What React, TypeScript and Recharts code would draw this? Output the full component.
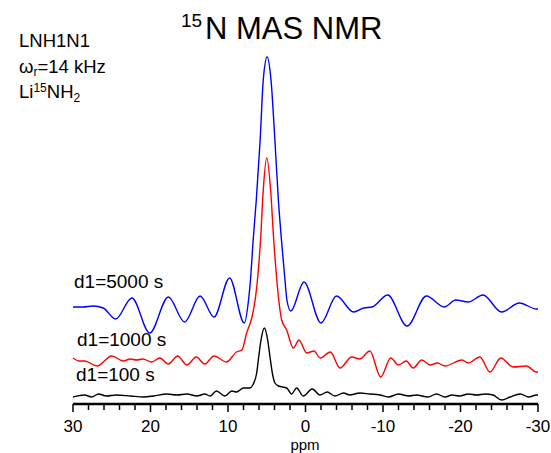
import { LineChart, Line, XAxis, YAxis } from 'recharts'

// chemical shift axis (ppm), drawn right to left
const ppmTicks = [30, 28, 26, 24, 22, 20, 18, 16, 14, 12, 10, 8, 6, 4, 2, 0, -2, -4, -6, -8, -10, -12, -14, -16, -18, -20, -22, -24, -26, -28, -30]

// [ppm, intensity] (intensity in stacked plot units)
const blueTrace = [
  [30, 97], [28.7, 97], [27.4, 98], [26.1, 96], [24.5, 85], [22.4, 106], [20.1, 71], [17.7, 107],
  [15.6, 82], [13.6, 108], [11.8, 87], [9.8, 126], [7.9, 81], [7.35, 104], [7.1, 124], [6.75, 164],
  [6.35, 204], [5.85, 264], [5.45, 324], [4.95, 347], [4.45, 324], [3.95, 264], [3.5, 204], [3.1, 164],
  [2.65, 124], [2.4, 104], [1.9, 93], [0.2, 122], [-2.0, 81], [-4.0, 108], [-6.2, 92], [-7.5, 96],
  [-8.6, 97], [-10.6, 109], [-13.1, 78], [-15.6, 108], [-17.9, 97], [-19.4, 104], [-21.0, 102],
  [-22.9, 109], [-25.3, 92], [-27.6, 101], [-29.8, 95], [-30, 95],
]

const redTrace = [
  [30, 46], [29.2, 43], [28.5, 43], [26.9, 38], [25.0, 48], [23.5, 43], [22.6, 45], [21.8, 44],
  [21.0, 45], [19.85, 42], [18.8, 46], [17.7, 40], [16.5, 48], [15.3, 39], [14.1, 47], [13.0, 40],
  [11.8, 48], [10.2, 42], [8.9, 52], [8.2, 54], [7.6, 71], [6.9, 87], [6.5, 104], [6.2, 124],
  [5.8, 164], [5.45, 214], [5.0, 246], [4.5, 214], [4.1, 164], [3.7, 124], [3.45, 104], [3.07, 84],
  [2.43, 74], [1.57, 56], [0.84, 64], [-0.15, 51], [-1.1, 53], [-1.9, 46], [-3.2, 52], [-4.45, 36],
  [-5.96, 47], [-7.0, 45], [-8.3, 53], [-9.7, 27], [-11.0, 46], [-12.0, 39], [-13.0, 43], [-13.9, 36],
  [-15.0, 44], [-16.1, 39], [-17.0, 41], [-18.0, 38], [-20.2, 44], [-21.0, 41], [-22.5, 47],
  [-23.8, 32], [-25.2, 46], [-26.8, 37], [-28.5, 38], [-29.8, 32], [-30, 32],
]

const blackTrace = [
  [30, 7], [28.5, 9], [27.6, 7], [26.7, 10], [25.7, 8], [24.4, 9], [22.6, 8], [20.9, 7], [19.6, 8],
  [17.9, 10], [16.6, 9], [15.3, 10], [14.0, 8], [13.0, 10], [12.3, 8], [11.5, 13], [10.4, 8],
  [9.5, 13], [8.9, 12], [8.0, 16], [7.2, 16], [6.8, 19], [6.3, 31], [6.04, 47], [5.74, 64],
  [5.3, 76], [4.88, 64], [4.58, 47], [4.28, 31], [3.94, 21], [3.5, 18], [2.43, 16], [1.8, 10],
  [1.14, 16], [0.29, 8], [-0.87, 15], [-1.87, 9], [-2.8, 12], [-3.8, 8], [-4.9, 11], [-5.7, 9],
  [-7.0, 11], [-8.3, 10], [-9.6, 9], [-10.7, 7], [-12.0, 10], [-13.3, 8], [-14.3, 9], [-15.8, 7],
  [-16.9, 10], [-18.0, 7], [-18.9, 9], [-19.9, 8], [-21.0, 10], [-22.1, 9], [-23.2, 10], [-24.2, 9],
  [-25.3, 4], [-26.4, 7], [-27.7, 10], [-28.8, 7], [-29.8, 9], [-30, 9],
]

const font = 'Liberation Sans, Arial, Helvetica, sans-serif'

const toRows = (trace: number[][]) => trace.map(([ppm, v]) => ({ ppm, v }))

function PpmTick(props: any) {
  const { x, y, payload } = props
  const major = payload.value % 10 === 0
  return (
    <g>
      <line x1={x} x2={x} y1={y} y2={y + (major ? 8 : 6)} stroke="#000" strokeWidth={1.5} />
      {major && (
        <text x={x} y={y + 28} textAnchor="middle" fontSize={17} fontFamily={font} fill="#000">
          {payload.value}
        </text>
      )}
    </g>
  )
}

export default function App() {
  return (
    <div style={{ position: 'absolute', left: 0, top: 0, width: 551, height: 453, background: '#fff' }}>
      <LineChart width={551} height={453} margin={{ top: 44, right: 13, bottom: 9, left: 73 }}>
        <XAxis
          type="number"
          dataKey="ppm"
          domain={[-30, 30]}
          reversed
          ticks={ppmTicks}
          interval={0}
          tickSize={0}
          tickMargin={0}
          tickLine={false}
          tick={<PpmTick />}
          height={40}
          axisLine={{ stroke: '#000', strokeWidth: 2.5 }}
        />
        <YAxis hide type="number" domain={[0, 360]} />
        <Line data={toRows(blueTrace)} dataKey="v" type="monotone" stroke="#0000ff" strokeWidth={1.4} dot={false} isAnimationActive={false} />
        <Line data={toRows(redTrace)} dataKey="v" type="monotone" stroke="#ff0000" strokeWidth={1.4} dot={false} isAnimationActive={false} />
        <Line data={toRows(blackTrace)} dataKey="v" type="monotone" stroke="#000000" strokeWidth={1.4} dot={false} isAnimationActive={false} />
      </LineChart>
      <svg width={551} height={453} style={{ position: 'absolute', left: 0, top: 0, pointerEvents: 'none' }} fontFamily={font} fill="#000">
        <text>
          <tspan x={181} y={27} fontSize={19}>15</tspan>
          <tspan x={205} y={39} fontSize={31}>N MAS NMR</tspan>
        </text>
        <text x={19} y={47} fontSize={18.5}>LNH1N1</text>
        <text x={19} y={73} fontSize={18.5}>
          ω<tspan fontSize={12} dy={3}>r</tspan><tspan dy={-3}>=14 kHz</tspan>
        </text>
        <text x={19} y={98} fontSize={18.5}>
          Li<tspan fontSize={12} dy={-6}>15</tspan><tspan dy={6}>NH</tspan><tspan fontSize={12} dy={4}>2</tspan>
        </text>
        <text x={74} y={288} fontSize={19}>d1=5000 s</text>
        <text x={77} y={346} fontSize={19}>d1=1000 s</text>
        <text x={76} y={381} fontSize={19}>d1=100 s</text>
        <text x={305} y={450} fontSize={15} textAnchor="middle">ppm</text>
      </svg>
    </div>
  )
}
